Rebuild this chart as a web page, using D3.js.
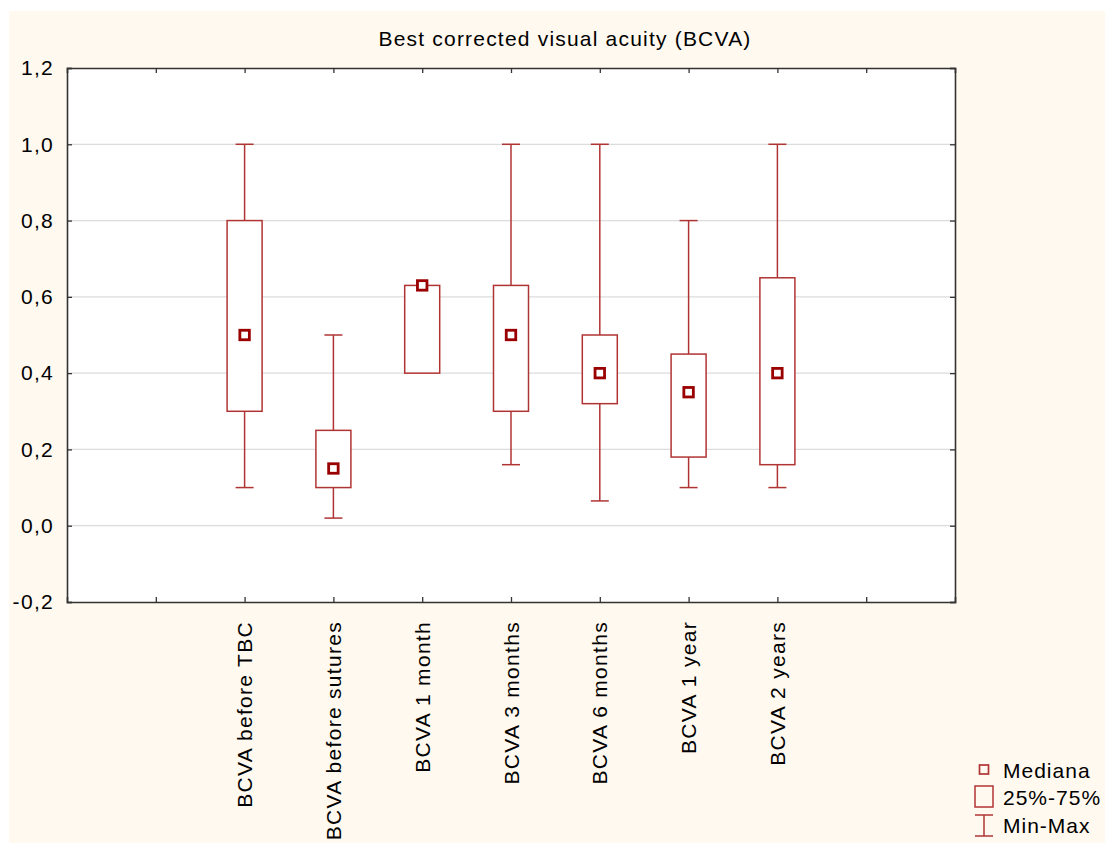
<!DOCTYPE html>
<html>
<head>
<meta charset="utf-8">
<script src="https://cdn.jsdelivr.net/npm/d3@7"></script>
<style>
  body { margin: 0; background: #fff; }
  text { font-family: "Liberation Sans", Arial, sans-serif; fill: #000; }
</style>
</head>
<body>
<div class="canvas"></div>
<script>
// data
const categories = ['BCVA before TBC', 'BCVA before sutures', 'BCVA 1 month', 'BCVA 3 months',
                    'BCVA 6 months', 'BCVA 1 year', 'BCVA 2 years'];
const minVals    = [0.10, 0.02, 0.40, 0.16, 0.065, 0.10, 0.10];
const q1Vals     = [0.30, 0.10, 0.40, 0.30, 0.32, 0.18, 0.16];
const medianVals = [0.50, 0.15, 0.63, 0.50, 0.40, 0.35, 0.40];
const q3Vals     = [0.80, 0.25, 0.63, 0.63, 0.50, 0.45, 0.65];
const maxVals    = [1.00, 0.50, 0.63, 1.00, 1.00, 0.80, 1.00];
const yTicks     = [-0.2, 0, 0.2, 0.4, 0.6, 0.8, 1.0, 1.2];
const legendItems = ['Mediana', '25%-75%', 'Min-Max'];

const boxColor = '#b13434';
const medColor = '#9a0000';

const svg = d3.select('.canvas')
    .append('svg')
    .attr('width', 1105)
    .attr('height', 843);

// cream background panel
svg.append('rect')
    .attr('x', 9).attr('y', 11)
    .attr('width', 1096).attr('height', 832)
    .attr('fill', '#fff9ef');

const margin = {top: 68, left: 67};
const graphWidth = 888;
const graphHeight = 534;

const graph = svg.append('g')
    .attr('transform', `translate(${margin.left}, ${margin.top})`);

graph.append('rect')
    .attr('width', graphWidth)
    .attr('height', graphHeight)
    .attr('fill', '#fff');

// scales
const y = d3.scaleLinear()
    .domain([-0.2, 1.2])
    .range([graphHeight, 0]);

// 10 slots across, categories sit on slots 2..8
const x = d3.scaleLinear()
    .domain([0, 10])
    .range([0, graphWidth]);
const slotTicks = d3.range(1, 10);
const pos = i => x(i + 2);

const locale = d3.formatLocale({decimal: ',', thousands: '.', grouping: [3], currency: ['', ''], minus: '-'});
const fmt = locale.format('.1f');

// grid lines
graph.append('g')
    .selectAll('line')
    .data(yTicks.filter(d => d > -0.2 && d < 1.2))
    .enter().append('line')
    .attr('x1', 0).attr('x2', graphWidth)
    .attr('y1', d => y(d)).attr('y2', d => y(d))
    .attr('stroke', '#dcdcdc')
    .attr('stroke-width', 1.2);

// axes, ticks pointing inward
const yAxisGroup = graph.append('g');
yAxisGroup.call(d3.axisLeft(y).tickValues(yTicks).tickSize(-5).tickPadding(13).tickFormat(fmt));
yAxisGroup.selectAll('text')
    .attr('font-size', 21)
    .attr('letter-spacing', 1.3)
    .attr('fill', '#000');

graph.append('g')
    .attr('transform', `translate(${graphWidth}, 0)`)
    .call(d3.axisRight(y).tickValues(yTicks).tickSize(-5).tickFormat(''));

graph.append('g')
    .call(d3.axisTop(x).tickValues(slotTicks).tickSize(-5).tickFormat(''));

graph.append('g')
    .attr('transform', `translate(0, ${graphHeight})`)
    .call(d3.axisBottom(x).tickValues(slotTicks).tickSize(-5).tickFormat(''));

graph.selectAll('.domain').attr('stroke', '#333').attr('stroke-width', 1.6);
graph.selectAll('.tick line').attr('stroke', '#333').attr('stroke-width', 1.3);

// category labels, rotated
graph.append('g')
    .selectAll('text')
    .data(categories)
    .enter().append('text')
    .attr('transform', (d, i) => `translate(${pos(i)}, ${graphHeight + 19}) rotate(-90)`)
    .attr('text-anchor', 'end')
    .attr('dy', '0.36em')
    .attr('font-size', 21)
    .attr('letter-spacing', 1.3)
    .text(d => d);

// boxes
const boxW = 35, capW = 18, medS = 9.5;
const boxes = graph.append('g')
    .selectAll('g')
    .data(categories)
    .enter().append('g');

boxes.append('line')
    .attr('x1', (d, i) => pos(i)).attr('x2', (d, i) => pos(i))
    .attr('y1', (d, i) => y(maxVals[i])).attr('y2', (d, i) => y(q3Vals[i]))
    .attr('stroke', boxColor).attr('stroke-width', 1.5);

boxes.append('line')
    .attr('x1', (d, i) => pos(i)).attr('x2', (d, i) => pos(i))
    .attr('y1', (d, i) => y(q1Vals[i])).attr('y2', (d, i) => y(minVals[i]))
    .attr('stroke', boxColor).attr('stroke-width', 1.5);

boxes.filter((d, i) => maxVals[i] > q3Vals[i]).append('line')
    .attr('x1', d => pos(categories.indexOf(d)) - capW / 2)
    .attr('x2', d => pos(categories.indexOf(d)) + capW / 2)
    .attr('y1', d => y(maxVals[categories.indexOf(d)]))
    .attr('y2', d => y(maxVals[categories.indexOf(d)]))
    .attr('stroke', boxColor).attr('stroke-width', 1.5);

boxes.filter((d, i) => minVals[i] < q1Vals[i]).append('line')
    .attr('x1', d => pos(categories.indexOf(d)) - capW / 2)
    .attr('x2', d => pos(categories.indexOf(d)) + capW / 2)
    .attr('y1', d => y(minVals[categories.indexOf(d)]))
    .attr('y2', d => y(minVals[categories.indexOf(d)]))
    .attr('stroke', boxColor).attr('stroke-width', 1.5);

boxes.append('rect')
    .attr('x', (d, i) => pos(i) - boxW / 2)
    .attr('y', (d, i) => y(q3Vals[i]))
    .attr('width', boxW)
    .attr('height', (d, i) => y(q1Vals[i]) - y(q3Vals[i]))
    .attr('fill', '#fff')
    .attr('stroke', boxColor).attr('stroke-width', 1.5);

boxes.append('rect')
    .attr('x', (d, i) => pos(i) - medS / 2)
    .attr('y', (d, i) => y(medianVals[i]) - medS / 2)
    .attr('width', medS).attr('height', medS)
    .attr('fill', '#fff')
    .attr('stroke', medColor).attr('stroke-width', 2.8);

// title
svg.append('text')
    .attr('x', 565).attr('y', 46)
    .attr('text-anchor', 'middle')
    .attr('font-size', 21)
    .attr('letter-spacing', 1.2)
    .text('Best corrected visual acuity (BCVA)');

// legend
const legend = svg.append('g').attr('transform', 'translate(984, 0)');
legend.append('rect')
    .attr('x', -4.5).attr('y', 765)
    .attr('width', 9).attr('height', 9)
    .attr('fill', 'none').attr('stroke', boxColor).attr('stroke-width', 1.7);
legend.append('rect')
    .attr('x', -9).attr('y', 786)
    .attr('width', 18).attr('height', 21)
    .attr('fill', 'none').attr('stroke', boxColor).attr('stroke-width', 1.5);
legend.append('line')
    .attr('x1', -9).attr('x2', 9).attr('y1', 815).attr('y2', 815)
    .attr('stroke', boxColor).attr('stroke-width', 1.5);
legend.append('line')
    .attr('x1', -9).attr('x2', 9).attr('y1', 836).attr('y2', 836)
    .attr('stroke', boxColor).attr('stroke-width', 1.5);
legend.append('line')
    .attr('x1', 0).attr('x2', 0).attr('y1', 815).attr('y2', 836)
    .attr('stroke', boxColor).attr('stroke-width', 1.5);

legend.selectAll('text.lbl')
    .data(legendItems)
    .enter().append('text')
    .attr('class', 'lbl')
    .attr('x', 19)
    .attr('y', (d, i) => 770 + i * 27.5)
    .attr('dy', '0.36em')
    .attr('font-size', 21)
    .attr('letter-spacing', 1.0)
    .text(d => d);
</script>
</body>
</html>
